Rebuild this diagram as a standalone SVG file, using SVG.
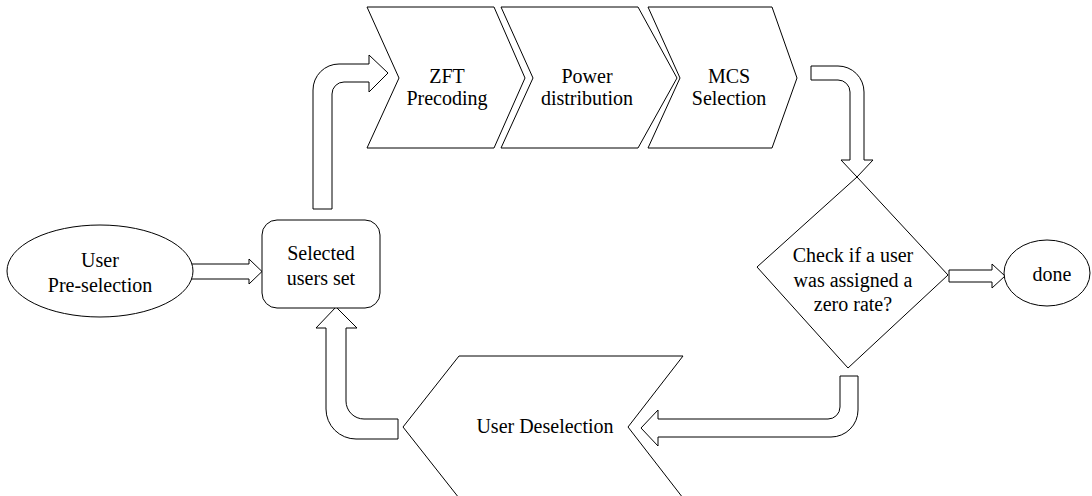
<svg xmlns="http://www.w3.org/2000/svg" width="1092" height="496" viewBox="0 0 1092 496">
  <style>
    .shape { fill: #ffffff; stroke: #000000; stroke-width: 1; }
    .arrow { fill: #ffffff; stroke: #000000; stroke-width: 1; stroke-linejoin: miter; }
  </style>
  <rect x="0" y="0" width="1092" height="496" fill="#ffffff"/>

  <!-- block arrows between the steps -->
  <g id="connectors">
    <!-- pre-selection to selected set -->
    <path class="arrow" d="M190,264 L249,264 L249,259 L262,271.5 L249,284 L249,279 L190,279 Z"/>
    <!-- selected set up and over to ZFT precoding -->
    <path class="arrow" d="M313,209 L313,90 A26,26 0 0 1 339,64 L369,64 L369,55 L388,73 L369,92 L369,82 L344,82 A12,12 0 0 0 332,94 L332,209 Z"/>
    <!-- MCS selection down to the check -->
    <path class="arrow" d="M811,66 L838,66 A26,26 0 0 1 864,92 L864,160 L873,160 L857,177 L841,160 L850,160 L850,92 A12,12 0 0 0 838,80 L811,80 Z"/>
    <!-- check to done -->
    <path class="arrow" d="M949,270 L992,270 L992,264 L1005,276 L992,288 L992,282 L949,282 Z"/>
    <!-- check back to user deselection -->
    <path class="arrow" d="M840,376 L858,376 L858,410 A27,27 0 0 1 831,437 L658,437 L658,446 L641,428 L658,410 L658,419 L828,419 A12,12 0 0 0 840,407 Z"/>
    <!-- user deselection back up to selected set -->
    <path class="arrow" d="M398,419 L364,419 A18,18 0 0 1 346,401 L346,328 L357,328 L336,307 L316,328 L326,328 L326,409 A30,30 0 0 0 356,439 L398,439 Z"/>
  </g>

  <g font-family="Times New Roman, Liberation Serif, serif" font-size="20" fill="#000000" text-anchor="middle">
    <g id="user-preselection">
      <ellipse class="shape" cx="100" cy="271" rx="93" ry="46"/>
      <text x="100" y="267">User</text>
      <text x="100" y="292">Pre-selection</text>
    </g>

    <g id="selected-users-set">
      <rect class="shape" x="262" y="220" width="118" height="88" rx="15" ry="15"/>
      <text x="321" y="260">Selected</text>
      <text x="321" y="285">users set</text>
    </g>

    <g id="zft-precoding">
      <polygon class="shape" points="367,7 494,7 525,78 494,148 367,148 399,78"/>
      <text x="447" y="83">ZFT</text>
      <text x="447" y="105">Precoding</text>
    </g>

    <g id="power-distribution">
      <polygon class="shape" points="501,7 638,7 677,78 638,148 501,148 533,78"/>
      <text x="587" y="83">Power</text>
      <text x="587" y="105">distribution</text>
    </g>

    <g id="mcs-selection">
      <polygon class="shape" points="648,7 772,7 797,78 772,148 648,148 680,78"/>
      <text x="729" y="83">MCS</text>
      <text x="729" y="105">Selection</text>
    </g>

    <g id="zero-rate-check">
      <polygon class="shape" points="857,177 948,275 848,368 757,267"/>
      <text x="853" y="262">Check if a user</text>
      <text x="853" y="286.5">was assigned a</text>
      <text x="853" y="311">zero rate?</text>
    </g>

    <g id="done">
      <ellipse class="shape" cx="1047" cy="273" rx="43" ry="33"/>
      <text x="1052" y="281">done</text>
    </g>

    <g id="user-deselection">
      <polygon class="shape" points="459,356 683,356 628,427 683,498 459,498 403,427"/>
      <text x="545" y="433">User Deselection</text>
    </g>
  </g>
</svg>
